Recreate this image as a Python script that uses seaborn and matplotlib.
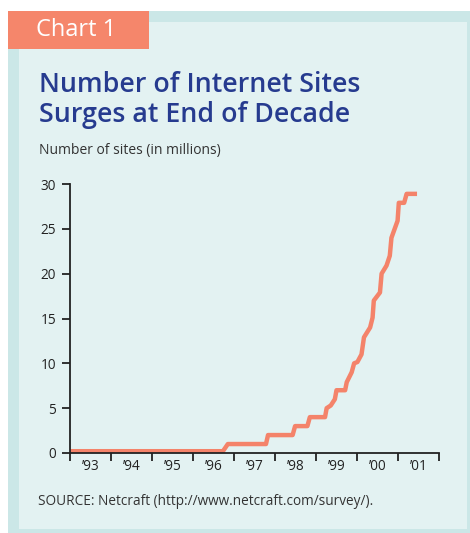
import matplotlib
matplotlib.use("Agg")
import matplotlib.pyplot as plt
import seaborn as sns
import pandas as pd
from matplotlib.patches import Rectangle

# ---- data ----
years = [1993.0, 1996.73, 1996.85, 1997.78, 1997.83, 1998.43, 1998.49, 1998.79, 1998.85,
         1999.22, 1999.26, 1999.36, 1999.46, 1999.50, 1999.71, 1999.75, 1999.87, 1999.93,
         2000.01, 2000.11, 2000.17, 2000.32, 2000.38, 2000.41, 2000.56, 2000.60, 2000.72,
         2000.80, 2000.84, 2000.99, 2001.02, 2001.15, 2001.21, 2001.41]
sites = [0.2, 0.2, 1.0, 1.0, 2.0, 2.0, 3.0, 3.0, 4.0,
         4.0, 5.0, 5.3, 6.0, 7.0, 7.0, 7.9, 9.0, 10.0,
         10.15, 11.0, 12.9, 14.0, 15.1, 17.0, 17.9, 20.0, 20.9,
         22.0, 24.0, 25.9, 27.9, 27.9, 28.9, 28.9]
tick_years = [1993, 1994, 1995, 1996, 1997, 1998, 1999, 2000, 2001, 2002]
year_labels = ["\u201993", "\u201994", "\u201995", "\u201996", "\u201997",
               "\u201998", "\u201999", "\u201900", "\u201901"]
y_ticks = [0, 5, 10, 15, 20, 25, 30]

df = pd.DataFrame({"year": years, "sites": sites})

W, H = 470, 533
fig = plt.figure(figsize=(W / 100, H / 100), dpi=100)
fig.patch.set_facecolor("white")

def fx(px):
    return px / W

def fy(py):
    return 1 - py / H

OUTER = "#cbe7e7"
INNER = "#e3f2f2"
SALMON = "#f5866b"
BLUE = "#263b8f"
DARK = "#222222"

# background panels
fig.patches.append(Rectangle((fx(8), fy(533)), fx(470) - fx(8), fy(11) - fy(533),
                             transform=fig.transFigure, facecolor=OUTER, edgecolor="none", zorder=-10))
fig.patches.append(Rectangle((fx(19), fy(529)), fx(467) - fx(19), fy(22) - fy(529),
                             transform=fig.transFigure, facecolor=INNER, edgecolor="none", zorder=-9))
fig.patches.append(Rectangle((fx(8), fy(49)), fx(149) - fx(8), fy(11) - fy(49),
                             transform=fig.transFigure, facecolor=SALMON, edgecolor="none", zorder=-8))

fig.text(fx(36), fy(30), "Chart 1", color="white", fontsize=17, family="Open Sans",
         va="center", ha="left")
fig.text(fx(39), fy(92), "Number of Internet Sites", color=BLUE, fontsize=19.3,
         family="Open Sans", weight="semibold", va="baseline", ha="left")
fig.text(fx(39), fy(122), "Surges at End of Decade", color=BLUE, fontsize=19.3,
         family="Open Sans", weight="semibold", va="baseline", ha="left")
fig.text(fx(39), fy(154), "Number of sites (in millions)", color="#333333", fontsize=10,
         family="Open Sans", va="baseline", ha="left")
fig.text(fx(38), fy(505), "SOURCE: Netcraft (http://www.netcraft.com/survey/).", color="#333333",
         fontsize=9.8, family="Open Sans", va="baseline", ha="left")

ax = fig.add_axes([fx(70), fy(453), fx(439) - fx(70), fy(184) - fy(453)])
ax.set_facecolor("none")
sns.lineplot(data=df, x="year", y="sites", ax=ax, color="#f4836a", linewidth=3.2,
             estimator=None, sort=False)
ax.set_xlim(1993, 2002)
ax.set_ylim(0, 30)
ax.set_xlabel("")
ax.set_ylabel("")
for s in ["top", "right"]:
    ax.spines[s].set_visible(False)
for s in ["left", "bottom"]:
    ax.spines[s].set_color(DARK)
    ax.spines[s].set_linewidth(1.3)
ax.spines["bottom"].set_zorder(5)

ax.set_yticks(y_ticks)
ax.set_yticklabels([str(v) for v in y_ticks], family="Open Sans", fontsize=9.8, color=DARK)
ax.set_xticks(tick_years)
ax.set_xticklabels([""] * len(tick_years))
ax.set_xticks([y + 0.5 for y in tick_years[:-1]], minor=True)
ax.set_xticklabels(year_labels, minor=True, family="Open Sans", fontsize=9.8, color=DARK)
ax.tick_params(axis="y", length=6, width=1.3, color=DARK, pad=4)
ax.tick_params(axis="x", which="major", length=6, width=1.3, color=DARK)
ax.tick_params(axis="x", which="minor", length=0, pad=4)

fig.savefig("out.png", dpi=100)
